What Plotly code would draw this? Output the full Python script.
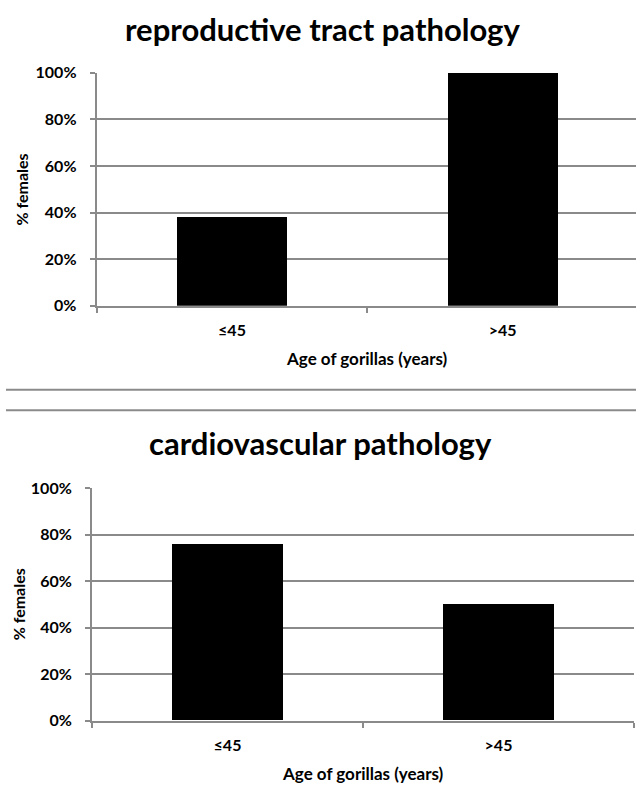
import plotly.graph_objects as go

categories = ["≤45", ">45"]
repro_values = [0.38, 1.00]
cardio_values = [0.76, 0.50]
titles = ["reproductive tract pathology", "cardiovascular pathology"]
y_ticks = [0, 0.2, 0.4, 0.6, 0.8, 1.0]
y_tick_labels = ["0%", "20%", "40%", "60%", "80%", "100%"]
x_title = "Age of gorillas (years)"
y_title = "% females"

W, H = 636, 791
FONT = "Lato"
GRID = "#8a8a8a"

def px_x(p):
    return p / W

def px_y(p):
    return 1 - p / H

fig = go.Figure()
fig.add_trace(go.Bar(x=categories, y=repro_values, marker=dict(color="black", line=dict(width=0)),
                     width=0.407, xaxis="x", yaxis="y", showlegend=False))
fig.add_trace(go.Bar(x=categories, y=cardio_values, marker=dict(color="black", line=dict(width=0)),
                     width=0.406, xaxis="x2", yaxis="y2", showlegend=False))

tickfont = dict(family=FONT, size=16, color="black", weight="bold")

def xaxis(domain, rng, anchor):
    return dict(domain=domain, range=rng, anchor=anchor, type="category",
                showline=True, linecolor=GRID, linewidth=2,
                ticks="outside", ticklen=5, tickwidth=2, tickcolor=GRID,
                tickson="boundaries", showgrid=False, tickfont=tickfont,
                ticklabelstandoff=9, zeroline=False, fixedrange=True)

def yaxis(domain, anchor):
    return dict(domain=domain, range=[0, 1.0], anchor=anchor,
                tickvals=y_ticks, ticktext=y_tick_labels,
                showline=True, linecolor=GRID, linewidth=2,
                ticks="outside", ticklen=5, tickwidth=2, tickcolor=GRID,
                showgrid=True, gridcolor=GRID, gridwidth=2,
                tickfont=tickfont, ticklabelstandoff=10, zeroline=False,
                fixedrange=True)

top_left, top_right = 96.7, 636
top_cat_w = 270.6
bot_left, bot_right = 92, 634

fig.update_layout(
    width=W, height=H,
    margin=dict(l=0, r=0, t=0, b=0),
    paper_bgcolor="white", plot_bgcolor="white",
    bargap=0,
    xaxis=xaxis([px_x(top_left), px_x(top_right)],
                [-0.5, -0.5 + (top_right - top_left) / top_cat_w], "y"),
    yaxis=yaxis([px_y(303), px_y(64.3)], "x"),
    xaxis2=xaxis([px_x(bot_left), px_x(bot_right)], [-0.5, 1.5], "y2"),
    yaxis2=yaxis([px_y(728), px_y(490)], "x2"),
)

ann = []
title_font = dict(family=FONT, size=31, color="black", weight="bold")
lab_font = dict(family=FONT, size=17, color="black", weight="bold")
ylab_font = dict(family=FONT, size=16, color="black", weight="bold")
ann.append(dict(text=titles[0], x=px_x(322), y=px_y(19), xref="paper", yref="paper",
                showarrow=False, font=title_font, xanchor="center", yanchor="middle"))
ann.append(dict(text=titles[1], x=px_x(320), y=px_y(444), xref="paper", yref="paper",
                showarrow=False, font=title_font, xanchor="center", yanchor="middle"))
for xc, yc in [(367, 357), (363, 782)]:
    ann.append(dict(text=x_title, x=px_x(xc), y=px_y(yc), xref="paper", yref="paper",
                    showarrow=False, font=lab_font, xanchor="center", yanchor="middle"))
for xc, yc in [(22, 184), (18, 609)]:
    ann.append(dict(text=y_title, x=px_x(xc), y=px_y(yc), xref="paper", yref="paper",
                    showarrow=False, font=ylab_font, textangle=-90,
                    xanchor="center", yanchor="middle"))
fig.update_layout(annotations=ann)

for yy in [389, 410]:
    fig.add_shape(type="line", xref="paper", yref="paper",
                  x0=px_x(6), x1=1, y0=px_y(yy), y1=px_y(yy),
                  line=dict(color=GRID, width=2))

fig.write_html("out.html", config={"displayModeBar": False},
               post_script="document.body.style.margin='0';")
